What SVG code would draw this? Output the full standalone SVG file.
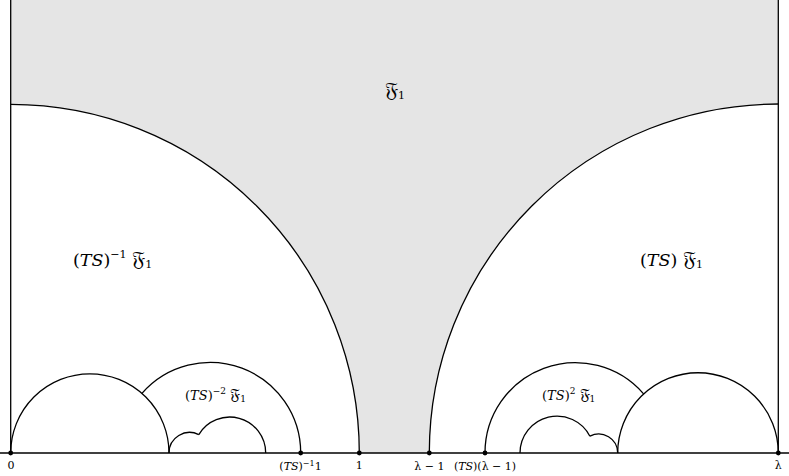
<svg xmlns="http://www.w3.org/2000/svg" width="789" height="476" viewBox="0 0 789 476">
<style>
.ln{fill:none;stroke:#000;stroke-width:1.3}
.t{font-family:"DejaVu Serif","Liberation Serif",serif;fill:#000}
.it{font-style:italic}
.big{font-size:17.5px}
.mid{font-size:13px}
.sm{font-size:11px}
.fk{font-size:1.2em}
.dot{fill:#000}
</style>
<rect width="789" height="476" fill="#fff"/>
<g id="region-F1">
<path d="M10.7 0 L10.7 104.4 A348.6 348.6 0 0 1 359.3 453 L429.3 453 A349 349 0 0 1 778.3 104 L778.3 0 Z" fill="#e5e5e5" stroke="none"/>
</g>
<g id="connectors">
<line class="ln" x1="0" y1="453" x2="789" y2="453"/>
<line class="ln" x1="10.7" y1="0" x2="10.7" y2="453"/>
<line class="ln" x1="778.3" y1="0" x2="778.3" y2="453"/>
<path class="ln" d="M10.7 104.4 A348.6 348.6 0 0 1 359.3 453"/>
<path class="ln" d="M429.3 453 A349 349 0 0 1 778.3 104"/>
<path class="ln" d="M10.7 453 A79.15 79.15 0 0 1 169 453"/>
<path class="ln" d="M141.96 393.4 A90.55 90.55 0 0 1 300.7 453"/>
<path class="ln" d="M169 453 A20.6 20.6 0 0 1 198.8 434.6"/>
<path class="ln" d="M198.8 434.6 A36 36 0 0 1 265.7 453"/>
<path class="ln" d="M617.7 453 A80.3 80.3 0 0 1 778.3 453"/>
<path class="ln" d="M485 453 A90.3 90.3 0 0 1 643.6 393.9"/>
<path class="ln" d="M520 453 A37 37 0 0 1 589.9 436.2"/>
<path class="ln" d="M589.9 436.2 A19 19 0 0 1 617.7 453"/>
</g>
<g id="points">
<circle class="dot" cx="10.7" cy="453" r="2.4"/>
<circle class="dot" cx="300.7" cy="453" r="2.4"/>
<circle class="dot" cx="359.3" cy="453" r="2.4"/>
<circle class="dot" cx="429.3" cy="453" r="2.4"/>
<circle class="dot" cx="485" cy="453" r="2.4"/>
<circle class="dot" cx="778.3" cy="453" r="2.4"/>
</g>
<g id="label-F1">
<text class="t big" x="385" y="97"><tspan class="fk">𝔉</tspan><tspan class="sm" dy="2">1</tspan></text>
</g>
<g id="label-TSinv-F1">
<text class="t big" x="73" y="266">(<tspan class="it">TS</tspan>)<tspan class="sm" dy="-8">−1</tspan><tspan dy="8"> </tspan><tspan class="fk">𝔉</tspan><tspan class="sm" dy="2">1</tspan></text>
</g>
<g id="label-TS-F1">
<text class="t big" x="640" y="266">(<tspan class="it">TS</tspan>) <tspan class="fk">𝔉</tspan><tspan class="sm" dy="2">1</tspan></text>
</g>
<g id="label-TSinv2-F1">
<text class="t mid" x="185" y="399.5">(<tspan class="it">TS</tspan>)<tspan font-size="9" dy="-6">−2</tspan><tspan dy="6"> </tspan><tspan class="fk">𝔉</tspan><tspan font-size="9" dy="2">1</tspan></text>
</g>
<g id="label-TS2-F1">
<text class="t mid" x="542" y="399.5">(<tspan class="it">TS</tspan>)<tspan font-size="9" dy="-6">2</tspan><tspan dy="6"> </tspan><tspan class="fk">𝔉</tspan><tspan font-size="9" dy="2">1</tspan></text>
</g>
<g id="axis-labels">
<text class="t sm" x="11" y="469" text-anchor="middle">0</text>
<text class="t sm" x="300.5" y="470" text-anchor="middle">(<tspan class="it">TS</tspan>)<tspan font-size="8" dy="-4">−1</tspan><tspan dy="4">1</tspan></text>
<text class="t sm" x="359.3" y="469" text-anchor="middle">1</text>
<text class="t sm" x="429.3" y="470" text-anchor="middle">λ − 1</text>
<text class="t sm" x="485" y="470" text-anchor="middle">(<tspan class="it">TS</tspan>)(λ − 1)</text>
<text class="t sm" x="778.3" y="469" text-anchor="middle">λ</text>
</g>
</svg>
